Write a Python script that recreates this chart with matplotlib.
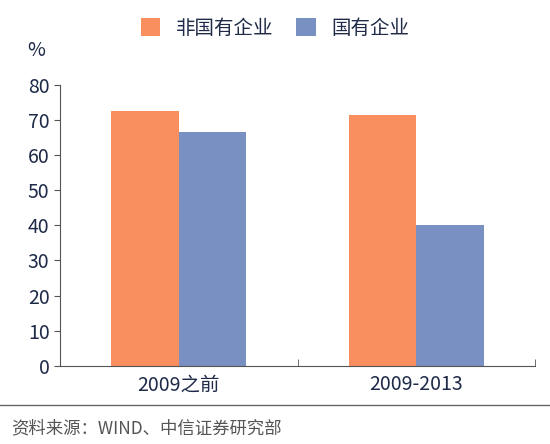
import matplotlib.pyplot as plt
import numpy as np

plt.rcParams['font.family'] = ['Noto Sans CJK SC', 'DejaVu Sans']

categories = ["2009之前", "2009-2013"]
non_soe = [72.5, 71.5]
soe = [66.5, 40.0]
series_names = ["非国有企业", "国有企业"]
orange = "#F98F5F"
blue = "#7990C3"
navy = "#1E2A48"

fig = plt.figure(figsize=(5.5, 4.44), dpi=100)
ax = fig.add_axes([0.109, 0.176, 0.864, 0.633])

x = np.arange(len(categories))
w = 0.285
ax.bar(x - w / 2, non_soe, w, color=orange, label=series_names[0])
ax.bar(x + w / 2, soe, w, color=blue, label=series_names[1])

ax.set_xlim(-0.5, 1.5)
ax.set_ylim(0, 80)
ax.set_yticks(range(0, 81, 10))
ax.set_xticks(x)
ax.set_xticklabels(categories, fontsize=14, color=navy)
ax.tick_params(axis='x', length=0, pad=6)
ax.set_xticks([-0.5, 0.5, 1.5], minor=True)
ax.tick_params(axis='x', which='minor', length=5, direction='in', color="#555555")
ax.tick_params(axis='y', labelsize=14, labelcolor=navy, direction='out', length=4, color="#555555")
for s in ["top", "right"]:
    ax.spines[s].set_visible(False)
for s in ["left", "bottom"]:
    ax.spines[s].set_color("#555555")

fig.text(0.05, 0.875, "%", fontsize=14, color=navy)
fig.legend(loc="upper center", bbox_to_anchor=(0.5, 1.0), ncol=2, frameon=False,
           fontsize=14, handlelength=1.0, handleheight=1.0, columnspacing=1.2,
           labelcolor=navy)
fig.add_artist(plt.Line2D([0.0, 1.0], [0.088, 0.088], color="#666666", lw=1.0))
fig.text(0.02, 0.036, "资料来源：WIND、中信证券研究部", fontsize=12.5, va="center", color="#555555")

fig.savefig("out.png", dpi=100)
